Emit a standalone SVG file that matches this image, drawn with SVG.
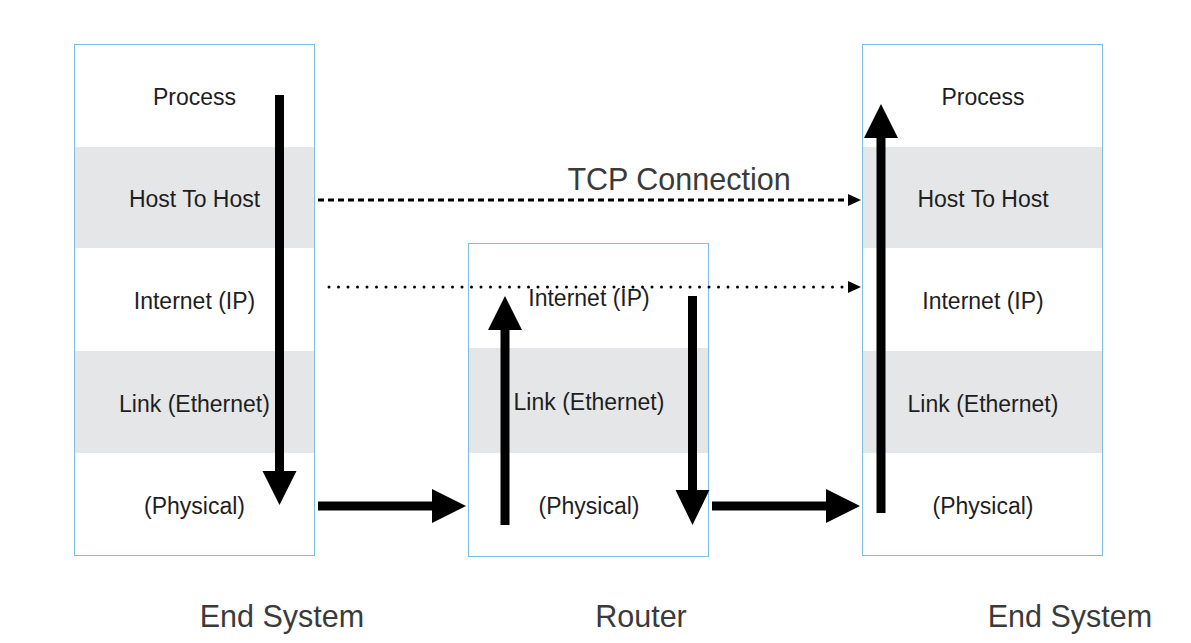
<svg xmlns="http://www.w3.org/2000/svg" width="1191" height="643" viewBox="0 0 1191 643">
  <style>
    .frame { fill: none; stroke: #7bbde3; stroke-width: 1; }
    .band { fill: #e5e6e8; }
    .layer { font-family: "Liberation Sans", Arial, sans-serif; font-size: 23px; fill: #1e1e1e; text-anchor: middle; }
    .caption { font-family: "Liberation Sans", Arial, sans-serif; font-size: 30.5px; fill: #3a3a3a; text-anchor: middle; }
    .shaft { stroke: #000; stroke-width: 9; fill: none; }
    .head { fill: #000; }
    .dash { stroke: #000; stroke-width: 3; fill: none; stroke-dasharray: 6 4; }
    .dot { stroke: #000; stroke-width: 3; fill: none; stroke-dasharray: 0 9.5; stroke-linecap: round; }
  </style>

  <rect x="0" y="0" width="1191" height="643" fill="#fff"/>

  <!-- left end system stack -->
  <g id="end-system-left">
    <rect class="band" x="75" y="147" width="240" height="101"/>
    <rect class="band" x="75" y="351" width="240" height="102"/>
    <rect class="frame" x="74.5" y="44.5" width="240" height="511"/>
    <text class="layer" x="194.5" y="105">Process</text>
    <text class="layer" x="194.5" y="207">Host To Host</text>
    <text class="layer" x="194.5" y="309">Internet (IP)</text>
    <text class="layer" x="194.5" y="412">Link (Ethernet)</text>
    <text class="layer" x="194.5" y="514">(Physical)</text>
    <text class="caption" x="282" y="627">End System</text>
  </g>

  <!-- router stack -->
  <g id="router">
    <rect class="band" x="469" y="348" width="240" height="105"/>
    <rect class="frame" x="468.5" y="243.5" width="240" height="313"/>
    <text class="layer" x="589" y="306">Internet (IP)</text>
    <text class="layer" x="589" y="410">Link (Ethernet)</text>
    <text class="layer" x="589" y="514">(Physical)</text>
    <text class="caption" x="641" y="627">Router</text>
  </g>

  <!-- right end system stack -->
  <g id="end-system-right">
    <rect class="band" x="863" y="147" width="240" height="101"/>
    <rect class="band" x="863" y="351" width="240" height="102"/>
    <rect class="frame" x="862.5" y="44.5" width="240" height="511"/>
    <text class="layer" x="983" y="105">Process</text>
    <text class="layer" x="983" y="207">Host To Host</text>
    <text class="layer" x="983" y="309">Internet (IP)</text>
    <text class="layer" x="983" y="412">Link (Ethernet)</text>
    <text class="layer" x="983" y="514">(Physical)</text>
    <text class="caption" x="1070" y="627">End System</text>
  </g>

  <!-- connectors -->
  <g id="connectors">
    <!-- logical TCP connection -->
    <text class="caption" x="679" y="190">TCP Connection</text>
    <line class="dash" x1="318" y1="200" x2="849" y2="200"/>
    <polygon class="head" points="848,194 848,206 861,200"/>

    <!-- logical IP path -->
    <line class="dot" x1="329" y1="287" x2="849" y2="287"/>
    <polygon class="head" points="848,281 848,293 861,287"/>

    <!-- down the sender stack -->
    <line class="shaft" x1="279.5" y1="95" x2="279.5" y2="472"/>
    <polygon class="head" points="262.5,471 296.5,471 279.5,505"/>

    <!-- sender to router -->
    <line class="shaft" x1="318" y1="506" x2="433" y2="506"/>
    <polygon class="head" points="432,489 432,523 466,506"/>

    <!-- up the router stack -->
    <line class="shaft" x1="505" y1="525" x2="505" y2="329"/>
    <polygon class="head" points="488,330 522,330 505,296"/>

    <!-- down the router stack -->
    <line class="shaft" x1="692.5" y1="296" x2="692.5" y2="491"/>
    <polygon class="head" points="675.5,490 709.5,490 692.5,525"/>

    <!-- router to receiver -->
    <line class="shaft" x1="712" y1="506" x2="827" y2="506"/>
    <polygon class="head" points="826,489 826,523 860,506"/>

    <!-- up the receiver stack -->
    <line class="shaft" x1="881" y1="513" x2="881" y2="137"/>
    <polygon class="head" points="864,138 898,138 881,104"/>
  </g>
</svg>
